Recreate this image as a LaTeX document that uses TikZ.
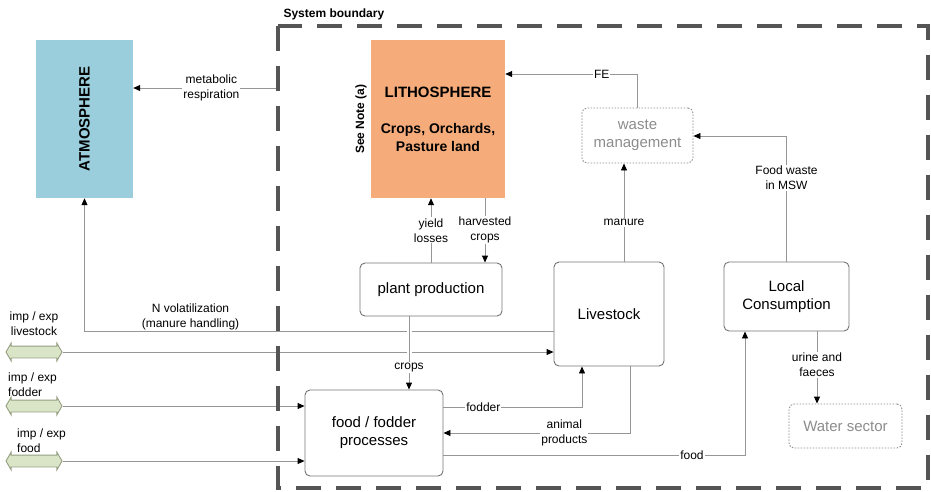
\documentclass[tikz,border=0pt]{standalone}
\usepackage{fontspec}
\setmainfont{Liberation Sans}
\usepackage{graphicx}
\usetikzlibrary{arrows.meta,shapes.arrows}

\definecolor{atmoblue}{RGB}{154,206,220}
\definecolor{lithoorange}{RGB}{245,172,122}
\definecolor{linegray}{RGB}{150,150,150}
\definecolor{boxgray}{RGB}{115,115,115}
\definecolor{bndgray}{RGB}{85,85,85}
\definecolor{ghostgray}{RGB}{140,140,140}
\definecolor{impgreen}{RGB}{218,228,198}
\definecolor{impedge}{RGB}{150,160,130}

\begin{document}
\begin{tikzpicture}[
  x=1pt, y=-1pt,
  sphere/.style={inner sep=0pt, align=center, font=\bfseries\fontsize{15}{18}\selectfont},
  process/.style={draw=boxgray, line width=0.9pt, rounded corners=5pt, align=center, inner sep=0pt, font=\fontsize{15}{18}\selectfont},
  external/.style={process, draw=ghostgray, dash pattern=on 1.5pt off 1.5pt, text=ghostgray},
  flow/.style={draw=linegray, line width=0.9pt, -{Triangle[length=7pt,width=6pt,color=black]}},
  lbl/.style={fill=white, inner sep=1pt, align=center, font=\fontsize{12}{15}\selectfont},
  impexp/.style={double arrow, draw=impedge, line width=0.9pt, fill=impgreen, inner xsep=0pt, inner ysep=5.5pt,
    minimum height=56pt, double arrow head extend=3pt, double arrow tip angle=120},
  bnd/.style={draw=bndgray, line width=3.5pt, dash pattern=on 25pt off 15pt}
  ]
	\useasboundingbox (0,0) rectangle (931,491);

	\node[sphere, fill=atmoblue, minimum width=97pt, minimum height=158pt] (atmo) at (84.5,119) {\rotatebox{90}{ATMOSPHERE}};
	\node[sphere, fill=lithoorange, minimum width=134pt, minimum height=158pt, font=\bfseries\fontsize{14}{18}\selectfont] (litho) at (438,119)
		{{\fontsize{15}{18}\selectfont LITHOSPHERE}\\[18pt]Crops, Orchards,\\Pasture land};
	\node[rotate=90, font=\bfseries\fontsize{12}{14}\selectfont] (note) at (361,119) {See Note (a)};

	\node[external, minimum width=111pt, minimum height=55pt] (waste) at (637.5,135.5) {waste\\management};
	\node[process, minimum width=142pt, minimum height=53pt] (plant) at (431,289.5) {plant production};
	\node[process, minimum width=110pt, minimum height=104pt] (live) at (609,314) {Livestock};
	\node[process, minimum width=125pt, minimum height=69pt] (local) at (786.5,296.5) {Local\\Consumption};
	\node[process, minimum width=138pt, minimum height=86pt] (food) at (374,433) {food / fodder\\processes};
	\node[external, minimum width=113pt, minimum height=44pt] (water) at (845.5,426) {Water sector};

	\node[impexp] (ielive) at (34,352) {};
	\node[impexp] (iefodder) at (34,406) {};
	\node[impexp] (iefood) at (34,461) {};
	\node[lbl, fill=none, align=center] (lblive) at (34,324) {imp / exp\\livestock};
	\node[lbl, fill=none, align=left, anchor=west] (lbfodder) at (7,385) {imp / exp\\fodder};
	\node[lbl, fill=none, align=left, anchor=west] (lbfood) at (16,440.5) {imp / exp\\food};

	\node[anchor=west, font=\bfseries\fontsize{12}{14}\selectfont] (sysb) at (280,14) {System boundary};
	\coordinate (mr) at (278,88);

	\draw[flow] (mr) -- node[lbl, pos=0.46]{metabolic\\respiration} (mr -| atmo.east);
	\draw[flow] (live.west |- 0,331) -| node[lbl, fill=none, above, pos=0.387]{N volatilization\\(manure handling)} (atmo.south);
	\draw[flow] (ielive.east) -- (live.west |- ielive.east);
	\draw[flow] (iefodder.east) -- (food.west |- iefodder.east);
	\draw[flow] (iefood.east) -- (food.west |- iefood.east);

	\draw[flow] (431,0 |- plant.north) -- node[lbl]{yield\\losses} (431,0 |- litho.south);
	\draw[flow] (485,0 |- litho.south) -- node[lbl]{harvested\\crops} (485,0 |- plant.north);
	\draw[flow, preaction={draw=white, line width=5pt, -, shorten <=3pt, shorten >=3pt}] (409,0 |- plant.south) -- node[lbl, pos=0.7]{crops} (409,0 |- food.north);

	\draw[flow] (624,0 |- live.north) -- node[lbl, pos=0.4]{manure} (624,0 |- waste.south);
	\draw[flow] (waste.north) |- node[lbl, pos=0.635]{FE} (litho.east |- 0,74);
	\draw[flow] (local.north) |- node[lbl, pos=0.333]{Food waste\\in MSW} (waste.east |- 0,136);
	\draw[flow] (817,0 |- local.south) -- node[lbl, pos=0.46]{urine and\\faeces} (817,0 |- water.north);

	\draw[flow] (food.east |- 0,407) -| node[lbl, pos=0.144]{fodder} (582,0 |- live.south);
	\draw[flow] (630,0 |- live.south) |- node[lbl, pos=0.676]{animal\\products} (food.east |- 0,433);
	\draw[flow] (food.east |- 0,455) -| node[lbl, pos=0.412]{food} (745,0 |- local.south);

	\draw[bnd] (278,26) rectangle (928,488);
\end{tikzpicture}
\end{document}
